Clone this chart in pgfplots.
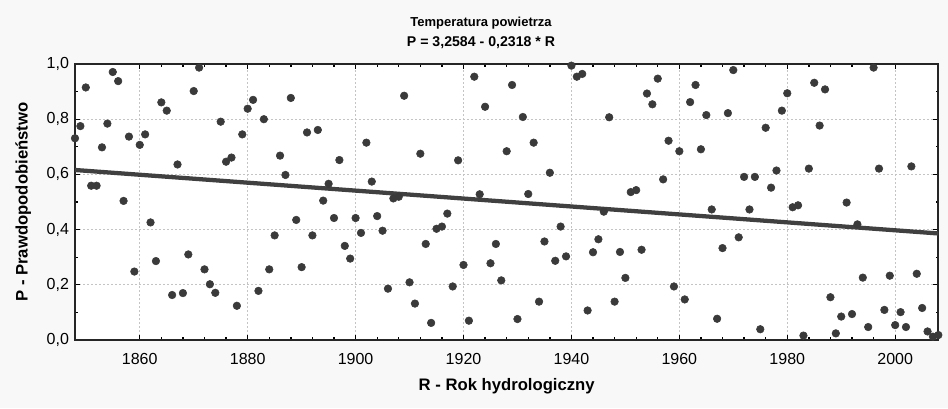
\documentclass[border=0pt]{standalone}
\usepackage{fontspec}
\setmainfont{Liberation Sans}
\usepackage{pgfplots}
\pgfplotsset{compat=1.18}
\usepackage{pgfplotstable}

\definecolor{figbg}{HTML}{F8F8F8}
\definecolor{dotc}{HTML}{3A3A3A}
\definecolor{linec}{HTML}{404040}
\definecolor{gridc}{HTML}{C4C4C4}

% year, probability
\pgfplotstableread{
R P
1848 0.731
1849 0.775
1850 0.915
1851 0.559
1852 0.559
1853 0.698
1854 0.784
1855 0.971
1856 0.938
1857 0.504
1858 0.737
1859 0.248
1860 0.707
1861 0.745
1862 0.426
1863 0.286
1864 0.861
1865 0.831
1866 0.163
1867 0.636
1868 0.170
1869 0.310
1870 0.902
1871 0.987
1872 0.256
1873 0.202
1874 0.171
1875 0.791
1876 0.646
1877 0.661
1878 0.124
1879 0.745
1880 0.838
1881 0.870
1882 0.178
1883 0.800
1884 0.256
1885 0.379
1886 0.668
1887 0.598
1888 0.877
1889 0.435
1890 0.264
1891 0.752
1892 0.379
1893 0.761
1894 0.505
1895 0.566
1896 0.442
1897 0.652
1898 0.341
1899 0.295
1900 0.442
1901 0.388
1902 0.715
1903 0.574
1904 0.449
1905 0.396
1906 0.186
1907 0.513
1908 0.519
1909 0.885
1910 0.209
1911 0.132
1912 0.675
1913 0.348
1914 0.062
1915 0.403
1916 0.411
1917 0.458
1918 0.194
1919 0.651
1920 0.272
1921 0.070
1922 0.954
1923 0.528
1924 0.845
1925 0.278
1926 0.348
1927 0.216
1928 0.684
1929 0.924
1930 0.076
1931 0.808
1932 0.529
1933 0.715
1934 0.139
1935 0.357
1936 0.606
1937 0.287
1938 0.411
1939 0.303
1940 0.994
1941 0.954
1942 0.964
1943 0.107
1944 0.318
1945 0.365
1946 0.465
1947 0.807
1948 0.139
1949 0.319
1950 0.225
1951 0.536
1952 0.543
1953 0.327
1954 0.893
1955 0.854
1956 0.947
1957 0.582
1958 0.722
1959 0.194
1960 0.684
1961 0.147
1962 0.862
1963 0.924
1964 0.691
1965 0.815
1966 0.473
1967 0.077
1968 0.333
1969 0.822
1970 0.978
1971 0.372
1972 0.591
1973 0.473
1974 0.591
1975 0.039
1976 0.769
1977 0.552
1978 0.614
1979 0.831
1980 0.894
1981 0.481
1982 0.488
1983 0.016
1984 0.621
1985 0.932
1986 0.777
1987 0.908
1988 0.155
1989 0.024
1990 0.085
1991 0.498
1992 0.094
1993 0.419
1994 0.226
1995 0.047
1996 0.987
1997 0.621
1998 0.109
1999 0.233
2000 0.054
2001 0.101
2002 0.047
2003 0.629
2004 0.240
2005 0.116
2006 0.031
2007 0.012
2008 0.018
}\datatable

\begin{document}
\begin{tikzpicture}
\fill[figbg] (0,0) rectangle (711pt,306pt);
\useasboundingbox (0,0) rectangle (711pt,306pt);
\begin{axis}[
  at={(56.25pt,51pt)}, anchor=south west,
  scale only axis, width=647.5pt, height=207pt,
  xmin=1848, xmax=2008, ymin=0, ymax=1,
  axis background/.style={fill=white},
  axis line style={black!85, line width=1.4pt},
  xtick={1860,1880,...,2000},
  ytick={0,0.2,0.4,0.6,0.8,1},
  minor x tick num=4, minor y tick num=1,
  tick align=inside,
  major tick length=3.75pt, minor tick length=2pt,
  tick style={black, line width=1pt},
  grid=major,
  major grid style={gridc, dash pattern=on 1.5pt off 1.5pt, line width=0.6pt},
  tick label style={font=\fontsize{12}{14}\selectfont, /pgf/number format/assume math mode=true},
  xticklabel style={/pgf/number format/1000 sep={}, anchor=center, yshift=-14.25pt},
  yticklabel style={/pgf/number format/fixed, /pgf/number format/fixed zerofill,
    /pgf/number format/precision=1, /pgf/number format/use comma, anchor=east, xshift=-1pt},
  xlabel={R - Rok hydrologiczny},
  xlabel style={font=\bfseries\fontsize{12.5}{15}\selectfont, at={(axis description cs:0.5,0)}, anchor=center, yshift=-34.5pt},
  ylabel={P - Prawdopodobieństwo},
  ylabel style={font=\bfseries\fontsize{12.5}{15}\selectfont, at={(axis description cs:-0.06,0.5)}, anchor=center},
]
\addplot[linec, line width=3.2pt] coordinates {(1848,0.616) (2008,0.386)};
\addplot[only marks, mark=*, mark size=2.85pt, draw=dotc, fill=dotc] table[x=R, y=P] {\datatable};
\end{axis}
\node[font=\bfseries\fontsize{9.75}{12}\selectfont] at (360.75pt,288.75pt) {Temperatura powietrza};
\node[font=\bfseries\fontsize{10.6}{13}\selectfont] at (360.75pt,273.75pt) {P = 3,2584 - 0,2318 * R};
\end{tikzpicture}
\end{document}
